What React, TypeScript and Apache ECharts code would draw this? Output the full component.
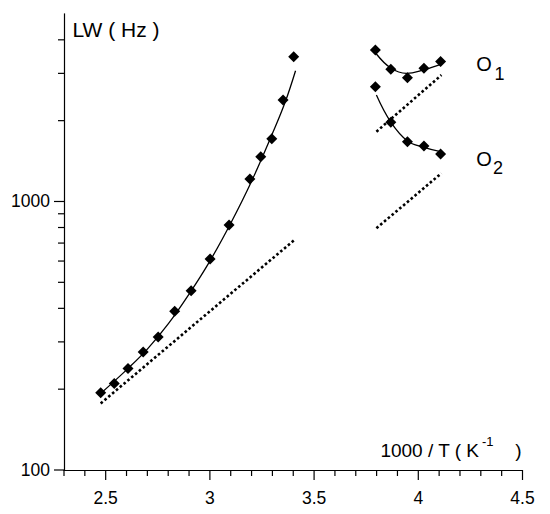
import { useEffect, useRef } from "react";
import * as echarts from "echarts";

// Left branch: measured points, fitted curve and dotted (Arrhenius) line
const mainX = [2.476, 2.541, 2.607, 2.68, 2.752, 2.831, 2.91, 3.001, 3.092, 3.192, 3.244, 3.297, 3.351, 3.402];
const mainY = [194, 210, 239, 275, 313, 390, 465, 611, 817, 1213, 1469, 1714, 2388, 3461];
const mainFitX = [2.48, 2.6, 2.7, 2.8, 2.9, 3.0, 3.1, 3.2, 3.3, 3.36, 3.411];
const mainFitY = [194, 236, 282, 350, 452, 600, 830, 1190, 1790, 2330, 3069];
const mainDotX = [2.476, 3.411];
const mainDotY = [177, 725];

// O1 branch
const o1X = [3.794, 3.868, 3.948, 4.027, 4.107];
const o1Y = [3664, 3108, 2892, 3133, 3319];
const o1FitX = [3.796, 3.868, 3.943, 4.026, 4.111];
const o1FitY = [3565, 3140, 3000, 3090, 3245];
const o1DotX = [3.799, 4.111];
const o1DotY = [1820, 2957];

// O2 branch
const o2X = [3.794, 3.868, 3.948, 4.027, 4.107];
const o2Y = [2677, 1972, 1670, 1609, 1503];
const o2FitX = [3.799, 3.868, 3.948, 4.027, 4.107];
const o2FitY = [2490, 1975, 1680, 1590, 1533];
const o2DotX = [3.799, 4.111];
const o2DotY = [795, 1274];

// Axis ticks
const xMajorTicks = [2.5, 3, 3.5, 4, 4.5];
const xMinorTicks = [2.3, 2.4, 2.6, 2.7, 2.8, 2.9, 3.1, 3.2, 3.3, 3.4, 3.6, 3.7, 3.8, 3.9, 4.1, 4.2, 4.3, 4.4];
const yMajorTicks = [100, 1000];
const yMinorTicks = [200, 300, 400, 500, 600, 700, 800, 900, 2000, 3000, 4000];

const zip = (xs: number[], ys: number[]) => xs.map((x, i) => [x, ys[i]]);

const FONT = "'Liberation Sans', Arial, sans-serif";
const INK = "#000";

export default function App() {
  const ref = useRef<HTMLDivElement>(null);

  useEffect(() => {
    if (!ref.current) return;
    const chart = echarts.init(ref.current, undefined, { renderer: "svg" });

    const tickData = [
      ...yMajorTicks.map((v) => [2.3, v, 0]),
      ...yMinorTicks.map((v) => [2.3, v, 1]),
      ...xMajorTicks.map((v) => [v, 100, 2]),
      ...xMinorTicks.map((v) => [v, 100, 3]),
    ];

    const fitLine = (data: number[][]) => ({
      type: "line",
      data,
      smooth: 0.4,
      showSymbol: false,
      symbol: "none",
      lineStyle: { color: INK, width: 1.3 },
      silent: true,
      z: 3,
    });
    const dotLine = (data: number[][]) => ({
      type: "line",
      data,
      showSymbol: false,
      symbol: "none",
      lineStyle: { color: INK, width: 2.6, type: [2.6, 2.4] },
      silent: true,
      z: 2,
    });
    const points = (data: number[][]) => ({
      type: "scatter",
      data,
      symbol: "diamond",
      symbolSize: 11,
      itemStyle: { color: INK, opacity: 1 },
      silent: true,
      z: 4,
    });

    const isNear = (v: number, t: number) => Math.abs(v - t) < 1e-6 * Math.max(1, Math.abs(t));

    chart.setOption({
      animation: false,
      backgroundColor: "#fff",
      grid: { left: 64, right: 27.5, top: 13.8, bottom: 44, containLabel: false },
      xAxis: {
        type: "value",
        min: 2.3,
        max: 4.5,
        interval: 0.1,
        axisLine: { show: true, lineStyle: { color: INK, width: 1.2 } },
        axisTick: { show: false },
        splitLine: { show: false },
        axisLabel: {
          color: INK,
          fontSize: 17.5,
          fontFamily: FONT,
          margin: 19,
          formatter: (v: number) =>
            xMajorTicks.some((t) => isNear(v, t)) ? String(Math.round(v * 10) / 10) : "",
        },
      },
      yAxis: {
        type: "log",
        logBase: 10,
        min: 100,
        max: 5000,
        axisLine: { show: true, lineStyle: { color: INK, width: 1.2 } },
        axisTick: { show: false },
        splitLine: { show: false },
        minorSplitLine: { show: false },
        axisLabel: {
          color: INK,
          fontSize: 17.5,
          fontFamily: FONT,
          margin: 14,
          formatter: (v: number) => {
            const t = yMajorTicks.find((m) => Math.abs(v - m) < m * 1e-6);
            return t !== undefined ? String(t) : "";
          },
        },
      },
      series: [
        {
          type: "custom",
          data: tickData,
          encode: { x: 0, y: 1 },
          clip: false,
          silent: true,
          z: 5,
          renderItem: (_p: any, api: any) => {
            const p = api.coord([api.value(0), api.value(1)]);
            const k = api.value(2);
            const len = k === 0 || k === 2 ? 10 : 6;
            const shape =
              k < 2
                ? { x1: p[0] - len, y1: p[1], x2: p[0], y2: p[1] }
                : { x1: p[0], y1: p[1], x2: p[0], y2: p[1] + len };
            return { type: "line", shape, style: { stroke: INK, lineWidth: 1.2 } };
          },
        },
        fitLine(zip(mainFitX, mainFitY)),
        points(zip(mainX, mainY)),
        dotLine(zip(mainDotX, mainDotY)),
        fitLine(zip(o1FitX, o1FitY)),
        points(zip(o1X, o1Y)),
        dotLine(zip(o1DotX, o1DotY)),
        fitLine(zip(o2FitX, o2FitY)),
        points(zip(o2X, o2Y)),
        dotLine(zip(o2DotX, o2DotY)),
      ],
      graphic: [
        {
          type: "text",
          x: 72.5,
          y: 29.4,
          style: { text: "LW ( Hz )", fontSize: 21, fontFamily: FONT, fill: INK, align: "left", verticalAlign: "middle" },
        },
        {
          type: "text",
          x: 479,
          y: 450.1,
          style: { text: "1000 / T ( K", fontSize: 19, fontFamily: FONT, fill: INK, align: "right", verticalAlign: "middle" },
        },
        {
          type: "text",
          x: 482,
          y: 441.2,
          style: { text: "-1", fontSize: 13, fontFamily: FONT, fill: INK, align: "left", verticalAlign: "middle" },
        },
        {
          type: "text",
          x: 521.5,
          y: 450.1,
          style: { text: ")", fontSize: 19, fontFamily: FONT, fill: INK, align: "right", verticalAlign: "middle" },
        },
        {
          type: "text",
          x: 476.3,
          y: 64.1,
          style: { text: "O", fontSize: 20, fontFamily: FONT, fill: INK, align: "left", verticalAlign: "middle" },
        },
        {
          type: "text",
          x: 494.5,
          y: 73.8,
          style: { text: "1", fontSize: 18, fontFamily: FONT, fill: INK, align: "left", verticalAlign: "middle" },
        },
        {
          type: "text",
          x: 476.3,
          y: 158.8,
          style: { text: "O", fontSize: 20, fontFamily: FONT, fill: INK, align: "left", verticalAlign: "middle" },
        },
        {
          type: "text",
          x: 493,
          y: 168.1,
          style: { text: "2", fontSize: 18, fontFamily: FONT, fill: INK, align: "left", verticalAlign: "middle" },
        },
      ],
    });

    return () => chart.dispose();
  }, []);

  return (
    <div
      ref={ref}
      style={{ position: "absolute", left: 0, top: 0, width: 550, height: 514, background: "#fff" }}
    />
  );
}
